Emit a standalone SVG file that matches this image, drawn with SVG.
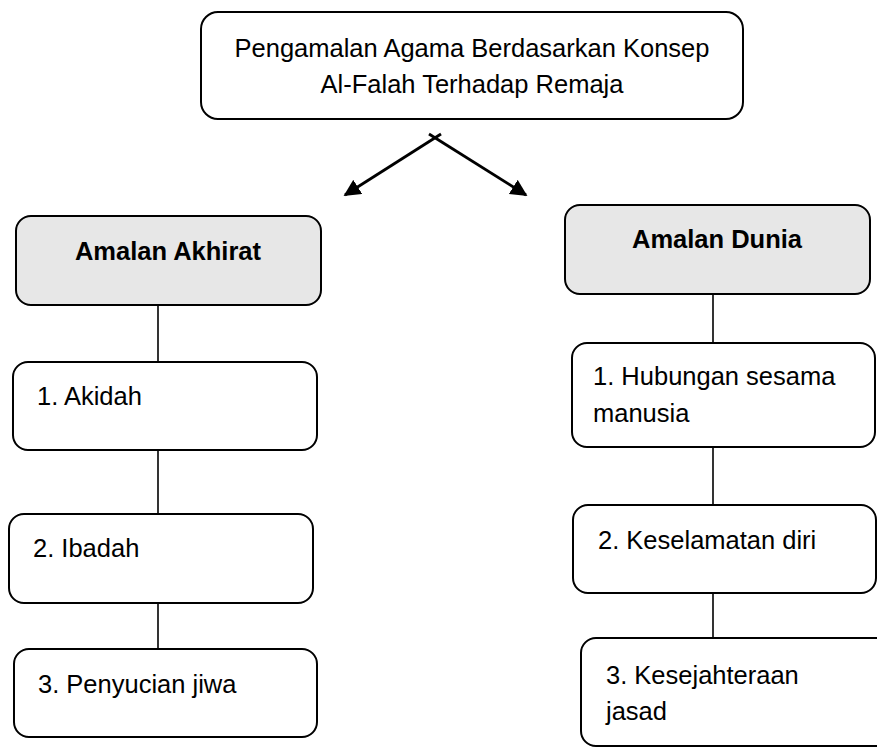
<svg xmlns="http://www.w3.org/2000/svg" width="877" height="748" viewBox="0 0 877 748">
<style>
.box{fill:#fff;stroke:#000;stroke-width:2}
.hdr{fill:#e7e7e7;stroke:#000;stroke-width:2}
text{font-family:"Liberation Sans",Arial,sans-serif;font-size:25.5px;fill:#000}
.b{font-weight:bold}
.c{stroke:#000;stroke-width:1.6;fill:none}
.a{stroke:#000;stroke-width:2.8;fill:none}
</style>
<defs>
<marker id="ah" viewBox="0 0 10 10" refX="9" refY="5" markerWidth="6" markerHeight="6" orient="auto" markerUnits="strokeWidth">
<path d="M0,0 L10,5 L0,10 z" fill="#000"/>
</marker>
</defs>
<rect width="877" height="748" fill="#fff"/>
<g id="connectors">
<line class="a" x1="441" y1="134" x2="345" y2="195" marker-end="url(#ah)"/>
<line class="a" x1="429" y1="134" x2="526" y2="195" marker-end="url(#ah)"/>
<line class="c" x1="158" y1="305" x2="158" y2="362"/>
<line class="c" x1="158" y1="450" x2="158" y2="514"/>
<line class="c" x1="158" y1="603" x2="158" y2="649"/>
<line class="c" x1="713" y1="294" x2="713" y2="343"/>
<line class="c" x1="713" y1="447" x2="713" y2="505"/>
<line class="c" x1="713" y1="593" x2="713" y2="638"/>
</g>
<g id="root">
<rect class="box" x="201" y="12" width="542" height="107" rx="17"/>
<text x="472" y="57" text-anchor="middle">Pengamalan Agama Berdasarkan Konsep</text>
<text x="472" y="93" text-anchor="middle">Al-Falah Terhadap Remaja</text>
</g>
<g id="akhirat">
<rect class="hdr" x="16" y="216" width="305" height="89" rx="15"/>
<text class="b" x="168" y="260" text-anchor="middle">Amalan Akhirat</text>
</g>
<g id="akidah">
<rect class="box" x="13" y="362" width="304" height="88" rx="15"/>
<text x="37" y="405">1. Akidah</text>
</g>
<g id="ibadah">
<rect class="box" x="9" y="514" width="304" height="89" rx="15"/>
<text x="33" y="557">2. Ibadah</text>
</g>
<g id="penyucian">
<rect class="box" x="14" y="649" width="303" height="88" rx="15"/>
<text x="38" y="693">3. Penyucian jiwa</text>
</g>
<g id="dunia">
<rect class="hdr" x="565" y="205" width="305" height="89" rx="15"/>
<text class="b" x="717" y="248" text-anchor="middle">Amalan Dunia</text>
</g>
<g id="hubungan">
<rect class="box" x="572" y="343" width="303" height="104" rx="15"/>
<text x="593" y="385">1. Hubungan sesama</text>
<text x="593" y="422">manusia</text>
</g>
<g id="keselamatan">
<rect class="box" x="573" y="505" width="303" height="88" rx="15"/>
<text x="598" y="549">2. Keselamatan diri</text>
</g>
<g id="kesejahteraan">
<rect class="box" x="581" y="638" width="310" height="108" rx="15"/>
<text x="606" y="684">3. Kesejahteraan</text>
<text x="606" y="720">jasad</text>
</g>
</svg>
